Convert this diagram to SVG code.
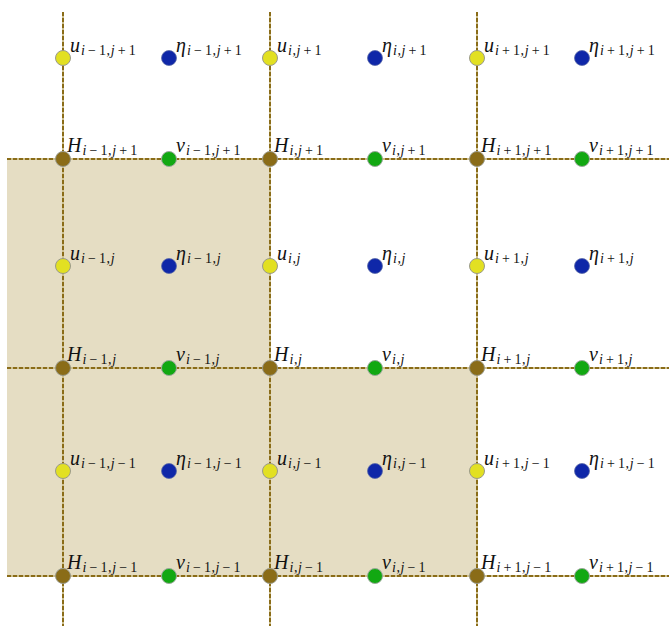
<svg xmlns="http://www.w3.org/2000/svg" width="669" height="626" viewBox="0 0 669 626">
<style>
.bg{fill:#fff}
.shade{fill:#e5ddc3}
.lb{stroke:#cdbf8e;stroke-width:2;fill:none}
.ld{stroke:#8a6c18;stroke-width:2;stroke-dasharray:4 2;fill:none}
.u{fill:#e2e022;stroke:#9a9a8a;stroke-width:1}
.e{fill:#0f27a8;stroke:#5a6aa8;stroke-width:0.8}
.h{fill:#8a6c18;stroke:#9a9a8a;stroke-width:1}
.v{fill:#12a812;stroke:#9aa89a;stroke-width:1}
.L{font-family:"Liberation Serif",serif;font-style:italic;font-size:20px;fill:#111}
.s{font-size:14px;font-style:normal;letter-spacing:0.6px}
.it{font-style:italic}
</style>
<rect class="bg" x="0" y="0" width="669" height="626"/>
<g id="shading">
<path class="shade" d="M7,159 H270 V368 H477 V576 H7 Z"/>
</g>
<g id="connectors">
<path class="lb" d="M63,12 V626 M270,12 V626 M477,12 V626 M7,159 H669 M7,368 H669 M7,576 H669"/>
<path class="ld" d="M63,12 V626 M270,12 V626 M477,12 V626 M7,159 H669 M7,368 H669 M7,576 H669"/>
</g>
<!-- row j+1 -->
<g id="u_im1_jp1"><circle class="u" cx="63" cy="58" r="7.5"/><text class="L" x="70" y="52">u<tspan class="s" dy="3" dx="1"><tspan class="it">i</tspan><tspan dx="2.5">−</tspan><tspan dx="2.5">1,</tspan><tspan class="it">j</tspan><tspan dx="2.5">+</tspan><tspan dx="2.5">1</tspan></tspan></text></g>
<g id="eta_im1_jp1"><circle class="e" cx="169" cy="58" r="7.5"/><text class="L" x="176" y="52">η<tspan class="s" dy="3" dx="1"><tspan class="it">i</tspan><tspan dx="2.5">−</tspan><tspan dx="2.5">1,</tspan><tspan class="it">j</tspan><tspan dx="2.5">+</tspan><tspan dx="2.5">1</tspan></tspan></text></g>
<g id="u_i_jp1"><circle class="u" cx="270" cy="58" r="7.5"/><text class="L" x="277" y="52">u<tspan class="s" dy="3" dx="1"><tspan class="it">i</tspan><tspan>,</tspan><tspan class="it">j</tspan><tspan dx="2.5">+</tspan><tspan dx="2.5">1</tspan></tspan></text></g>
<g id="eta_i_jp1"><circle class="e" cx="375" cy="58" r="7.5"/><text class="L" x="382" y="52">η<tspan class="s" dy="3" dx="1"><tspan class="it">i</tspan><tspan>,</tspan><tspan class="it">j</tspan><tspan dx="2.5">+</tspan><tspan dx="2.5">1</tspan></tspan></text></g>
<g id="u_ip1_jp1"><circle class="u" cx="477" cy="58" r="7.5"/><text class="L" x="484" y="52">u<tspan class="s" dy="3" dx="1"><tspan class="it">i</tspan><tspan dx="2.5">+</tspan><tspan dx="2.5">1,</tspan><tspan class="it">j</tspan><tspan dx="2.5">+</tspan><tspan dx="2.5">1</tspan></tspan></text></g>
<g id="eta_ip1_jp1"><circle class="e" cx="582" cy="58" r="7.5"/><text class="L" x="589" y="52">η<tspan class="s" dy="3" dx="1"><tspan class="it">i</tspan><tspan dx="2.5">+</tspan><tspan dx="2.5">1,</tspan><tspan class="it">j</tspan><tspan dx="2.5">+</tspan><tspan dx="2.5">1</tspan></tspan></text></g>
<g id="H_im1_jp1"><circle class="h" cx="63" cy="159" r="7.5"/><text class="L" x="67" y="152">H<tspan class="s" dy="3" dx="1"><tspan class="it">i</tspan><tspan dx="2.5">−</tspan><tspan dx="2.5">1,</tspan><tspan class="it">j</tspan><tspan dx="2.5">+</tspan><tspan dx="2.5">1</tspan></tspan></text></g>
<g id="v_im1_jp1"><circle class="v" cx="169" cy="159" r="7.5"/><text class="L" x="176" y="152">v<tspan class="s" dy="3" dx="1"><tspan class="it">i</tspan><tspan dx="2.5">−</tspan><tspan dx="2.5">1,</tspan><tspan class="it">j</tspan><tspan dx="2.5">+</tspan><tspan dx="2.5">1</tspan></tspan></text></g>
<g id="H_i_jp1"><circle class="h" cx="270" cy="159" r="7.5"/><text class="L" x="274" y="152">H<tspan class="s" dy="3" dx="1"><tspan class="it">i</tspan><tspan>,</tspan><tspan class="it">j</tspan><tspan dx="2.5">+</tspan><tspan dx="2.5">1</tspan></tspan></text></g>
<g id="v_i_jp1"><circle class="v" cx="375" cy="159" r="7.5"/><text class="L" x="382" y="152">v<tspan class="s" dy="3" dx="1"><tspan class="it">i</tspan><tspan>,</tspan><tspan class="it">j</tspan><tspan dx="2.5">+</tspan><tspan dx="2.5">1</tspan></tspan></text></g>
<g id="H_ip1_jp1"><circle class="h" cx="477" cy="159" r="7.5"/><text class="L" x="481" y="152">H<tspan class="s" dy="3" dx="1"><tspan class="it">i</tspan><tspan dx="2.5">+</tspan><tspan dx="2.5">1,</tspan><tspan class="it">j</tspan><tspan dx="2.5">+</tspan><tspan dx="2.5">1</tspan></tspan></text></g>
<g id="v_ip1_jp1"><circle class="v" cx="582" cy="159" r="7.5"/><text class="L" x="589" y="152">v<tspan class="s" dy="3" dx="1"><tspan class="it">i</tspan><tspan dx="2.5">+</tspan><tspan dx="2.5">1,</tspan><tspan class="it">j</tspan><tspan dx="2.5">+</tspan><tspan dx="2.5">1</tspan></tspan></text></g>
<!-- row j -->
<g id="u_im1_j"><circle class="u" cx="63" cy="266" r="7.5"/><text class="L" x="70" y="260">u<tspan class="s" dy="3" dx="1"><tspan class="it">i</tspan><tspan dx="2.5">−</tspan><tspan dx="2.5">1,</tspan><tspan class="it">j</tspan></tspan></text></g>
<g id="eta_im1_j"><circle class="e" cx="169" cy="266" r="7.5"/><text class="L" x="176" y="260">η<tspan class="s" dy="3" dx="1"><tspan class="it">i</tspan><tspan dx="2.5">−</tspan><tspan dx="2.5">1,</tspan><tspan class="it">j</tspan></tspan></text></g>
<g id="u_i_j"><circle class="u" cx="270" cy="266" r="7.5"/><text class="L" x="277" y="260">u<tspan class="s" dy="3" dx="1"><tspan class="it">i</tspan><tspan>,</tspan><tspan class="it">j</tspan></tspan></text></g>
<g id="eta_i_j"><circle class="e" cx="375" cy="266" r="7.5"/><text class="L" x="382" y="260">η<tspan class="s" dy="3" dx="1"><tspan class="it">i</tspan><tspan>,</tspan><tspan class="it">j</tspan></tspan></text></g>
<g id="u_ip1_j"><circle class="u" cx="477" cy="266" r="7.5"/><text class="L" x="484" y="260">u<tspan class="s" dy="3" dx="1"><tspan class="it">i</tspan><tspan dx="2.5">+</tspan><tspan dx="2.5">1,</tspan><tspan class="it">j</tspan></tspan></text></g>
<g id="eta_ip1_j"><circle class="e" cx="582" cy="266" r="7.5"/><text class="L" x="589" y="260">η<tspan class="s" dy="3" dx="1"><tspan class="it">i</tspan><tspan dx="2.5">+</tspan><tspan dx="2.5">1,</tspan><tspan class="it">j</tspan></tspan></text></g>
<g id="H_im1_j"><circle class="h" cx="63" cy="368" r="7.5"/><text class="L" x="67" y="361">H<tspan class="s" dy="3" dx="1"><tspan class="it">i</tspan><tspan dx="2.5">−</tspan><tspan dx="2.5">1,</tspan><tspan class="it">j</tspan></tspan></text></g>
<g id="v_im1_j"><circle class="v" cx="169" cy="368" r="7.5"/><text class="L" x="176" y="361">v<tspan class="s" dy="3" dx="1"><tspan class="it">i</tspan><tspan dx="2.5">−</tspan><tspan dx="2.5">1,</tspan><tspan class="it">j</tspan></tspan></text></g>
<g id="H_i_j"><circle class="h" cx="270" cy="368" r="7.5"/><text class="L" x="274" y="361">H<tspan class="s" dy="3" dx="1"><tspan class="it">i</tspan><tspan>,</tspan><tspan class="it">j</tspan></tspan></text></g>
<g id="v_i_j"><circle class="v" cx="375" cy="368" r="7.5"/><text class="L" x="382" y="361">v<tspan class="s" dy="3" dx="1"><tspan class="it">i</tspan><tspan>,</tspan><tspan class="it">j</tspan></tspan></text></g>
<g id="H_ip1_j"><circle class="h" cx="477" cy="368" r="7.5"/><text class="L" x="481" y="361">H<tspan class="s" dy="3" dx="1"><tspan class="it">i</tspan><tspan dx="2.5">+</tspan><tspan dx="2.5">1,</tspan><tspan class="it">j</tspan></tspan></text></g>
<g id="v_ip1_j"><circle class="v" cx="582" cy="368" r="7.5"/><text class="L" x="589" y="361">v<tspan class="s" dy="3" dx="1"><tspan class="it">i</tspan><tspan dx="2.5">+</tspan><tspan dx="2.5">1,</tspan><tspan class="it">j</tspan></tspan></text></g>
<!-- row j-1 -->
<g id="u_im1_jm1"><circle class="u" cx="63" cy="471" r="7.5"/><text class="L" x="70" y="465">u<tspan class="s" dy="3" dx="1"><tspan class="it">i</tspan><tspan dx="2.5">−</tspan><tspan dx="2.5">1,</tspan><tspan class="it">j</tspan><tspan dx="2.5">−</tspan><tspan dx="2.5">1</tspan></tspan></text></g>
<g id="eta_im1_jm1"><circle class="e" cx="169" cy="471" r="7.5"/><text class="L" x="176" y="465">η<tspan class="s" dy="3" dx="1"><tspan class="it">i</tspan><tspan dx="2.5">−</tspan><tspan dx="2.5">1,</tspan><tspan class="it">j</tspan><tspan dx="2.5">−</tspan><tspan dx="2.5">1</tspan></tspan></text></g>
<g id="u_i_jm1"><circle class="u" cx="270" cy="471" r="7.5"/><text class="L" x="277" y="465">u<tspan class="s" dy="3" dx="1"><tspan class="it">i</tspan><tspan>,</tspan><tspan class="it">j</tspan><tspan dx="2.5">−</tspan><tspan dx="2.5">1</tspan></tspan></text></g>
<g id="eta_i_jm1"><circle class="e" cx="375" cy="471" r="7.5"/><text class="L" x="382" y="465">η<tspan class="s" dy="3" dx="1"><tspan class="it">i</tspan><tspan>,</tspan><tspan class="it">j</tspan><tspan dx="2.5">−</tspan><tspan dx="2.5">1</tspan></tspan></text></g>
<g id="u_ip1_jm1"><circle class="u" cx="477" cy="471" r="7.5"/><text class="L" x="484" y="465">u<tspan class="s" dy="3" dx="1"><tspan class="it">i</tspan><tspan dx="2.5">+</tspan><tspan dx="2.5">1,</tspan><tspan class="it">j</tspan><tspan dx="2.5">−</tspan><tspan dx="2.5">1</tspan></tspan></text></g>
<g id="eta_ip1_jm1"><circle class="e" cx="582" cy="471" r="7.5"/><text class="L" x="589" y="465">η<tspan class="s" dy="3" dx="1"><tspan class="it">i</tspan><tspan dx="2.5">+</tspan><tspan dx="2.5">1,</tspan><tspan class="it">j</tspan><tspan dx="2.5">−</tspan><tspan dx="2.5">1</tspan></tspan></text></g>
<g id="H_im1_jm1"><circle class="h" cx="63" cy="576" r="7.5"/><text class="L" x="67" y="569">H<tspan class="s" dy="3" dx="1"><tspan class="it">i</tspan><tspan dx="2.5">−</tspan><tspan dx="2.5">1,</tspan><tspan class="it">j</tspan><tspan dx="2.5">−</tspan><tspan dx="2.5">1</tspan></tspan></text></g>
<g id="v_im1_jm1"><circle class="v" cx="169" cy="576" r="7.5"/><text class="L" x="176" y="569">v<tspan class="s" dy="3" dx="1"><tspan class="it">i</tspan><tspan dx="2.5">−</tspan><tspan dx="2.5">1,</tspan><tspan class="it">j</tspan><tspan dx="2.5">−</tspan><tspan dx="2.5">1</tspan></tspan></text></g>
<g id="H_i_jm1"><circle class="h" cx="270" cy="576" r="7.5"/><text class="L" x="274" y="569">H<tspan class="s" dy="3" dx="1"><tspan class="it">i</tspan><tspan>,</tspan><tspan class="it">j</tspan><tspan dx="2.5">−</tspan><tspan dx="2.5">1</tspan></tspan></text></g>
<g id="v_i_jm1"><circle class="v" cx="375" cy="576" r="7.5"/><text class="L" x="382" y="569">v<tspan class="s" dy="3" dx="1"><tspan class="it">i</tspan><tspan>,</tspan><tspan class="it">j</tspan><tspan dx="2.5">−</tspan><tspan dx="2.5">1</tspan></tspan></text></g>
<g id="H_ip1_jm1"><circle class="h" cx="477" cy="576" r="7.5"/><text class="L" x="481" y="569">H<tspan class="s" dy="3" dx="1"><tspan class="it">i</tspan><tspan dx="2.5">+</tspan><tspan dx="2.5">1,</tspan><tspan class="it">j</tspan><tspan dx="2.5">−</tspan><tspan dx="2.5">1</tspan></tspan></text></g>
<g id="v_ip1_jm1"><circle class="v" cx="582" cy="576" r="7.5"/><text class="L" x="589" y="569">v<tspan class="s" dy="3" dx="1"><tspan class="it">i</tspan><tspan dx="2.5">+</tspan><tspan dx="2.5">1,</tspan><tspan class="it">j</tspan><tspan dx="2.5">−</tspan><tspan dx="2.5">1</tspan></tspan></text></g>
</svg>
